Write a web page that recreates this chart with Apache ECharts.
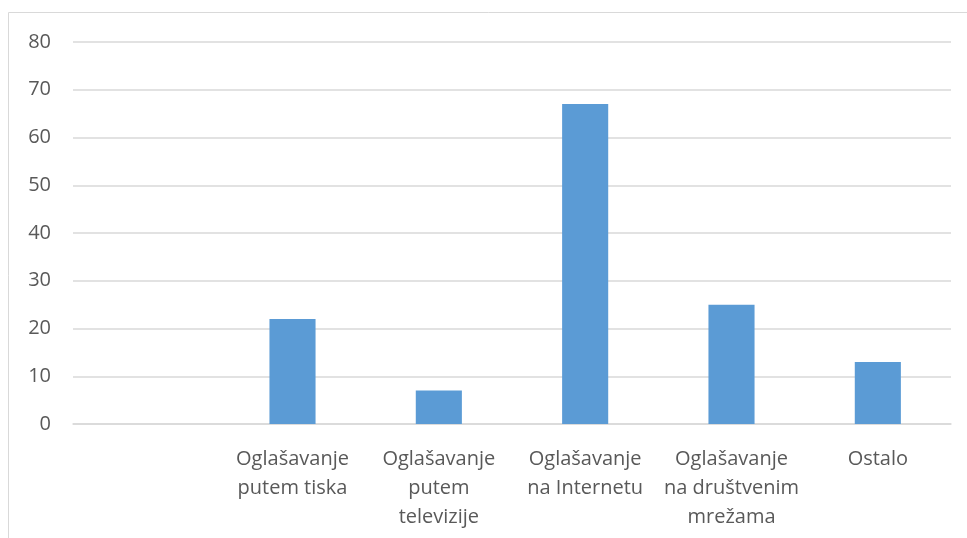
<!DOCTYPE html>
<html><head><meta charset="utf-8">
<script src="https://cdn.jsdelivr.net/npm/echarts@6/dist/echarts.min.js"></script>
<style>html,body{margin:0;padding:0;background:#fff}#c{width:967px;height:538px}</style>
</head><body><div id="c"></div>
<script>
const categories = ["", "Oglašavanje\nputem tiska", "Oglašavanje\nputem\ntelevizije", "Oglašavanje\nna Internetu", "Oglašavanje\nna društvenim\nmrežama", "Ostalo"];
const values = [null, 22, 7, 67, 25, 13];
const yTicks = [0, 10, 20, 30, 40, 50, 60, 70, 80];

const chart = echarts.init(document.getElementById('c'));
chart.setOption({
  animation: false,
  textStyle: { fontFamily: 'Open Sans' },
  graphic: [{
    type: 'rect', shape: { x: 8.5, y: 12.5, width: 1000, height: 600 },
    style: { fill: 'none', stroke: '#d9d9d9', lineWidth: 1 }, silent: true
  }],
  grid: { left: 73, right: 16, top: 42, bottom: 114 },
  xAxis: {
    type: 'category', data: categories,
    axisLine: { show: true, lineStyle: { color: '#d9d9d9', width: 1.5 } },
    axisTick: { show: false },
    axisLabel: { interval: 0, color: '#595959', fontSize: 20, lineHeight: 29, margin: 21 }
  },
  yAxis: {
    type: 'value', min: yTicks[0], max: yTicks[yTicks.length - 1], interval: 10,
    axisLine: { show: false }, axisTick: { show: false },
    splitLine: { lineStyle: { color: '#d9d9d9', width: 1.5 } },
    axisLabel: { color: '#595959', fontSize: 20, margin: 22 }
  },
  series: [{
    type: 'bar', data: values, barWidth: '31.5%',
    itemStyle: { color: '#5b9bd5' }
  }]
});
</script></body></html>
